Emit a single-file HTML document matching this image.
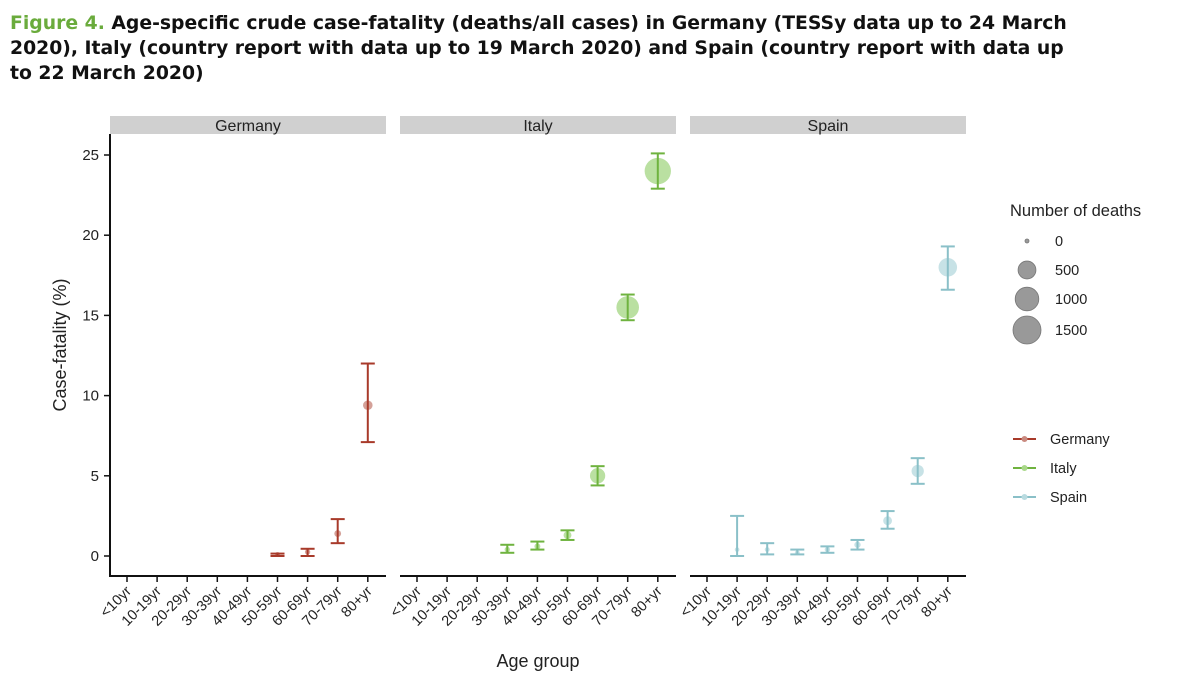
<!DOCTYPE html>
<html><head><meta charset="utf-8"><style>
body{margin:0;background:#fff;width:1200px;height:681px;overflow:hidden;font-family:"Liberation Sans",sans-serif}
.title{position:absolute;left:10px;top:11px;width:1072px;font-family:"DejaVu Sans",sans-serif;font-weight:bold;font-size:18.8px;line-height:25px;color:#111}
.title span{color:#6aab3c}
</style></head><body>
<div class="title"><span>Figure 4.</span> Age-specific crude case-fatality (deaths/all cases) in Germany (TESSy data up to 24 March 2020), Italy (country report with data up to 19 March 2020) and Spain (country report with data up to 22 March 2020)</div>
<svg id="c" width="1200" height="681" style="position:absolute;left:0;top:0"></svg>
<script>
const ages=["<10yr","10-19yr","20-29yr","30-39yr","40-49yr","50-59yr","60-69yr","70-79yr","80+yr"];
const countries=["Germany","Italy","Spain"];
const colors=["#a83a2a","#6fb33f","#8ac0c8"];
const fills=["#c98a80","#a9d88a","#b9dbe0"];
const germanyCF=[null,null,null,null,null,0.1,0.25,1.4,9.4];
const germanyLo=[null,null,null,null,null,0.0,0.0,0.8,7.1];
const germanyHi=[null,null,null,null,null,0.15,0.45,2.3,12.0];
const germanyDeaths=[0,0,0,0,0,2,5,20,80];
const italyCF=[null,null,null,0.4,0.6,1.3,5.0,15.5,24.0];
const italyLo=[null,null,null,0.2,0.4,1.0,4.4,14.7,22.9];
const italyHi=[null,null,null,0.7,0.9,1.6,5.6,16.3,25.1];
const italyDeaths=[0,0,0,5,10,40,330,900,1300];
const spainCF=[null,0.4,0.4,0.2,0.4,0.7,2.2,5.3,18.0];
const spainLo=[null,0.0,0.1,0.1,0.2,0.4,1.7,4.5,16.6];
const spainHi=[null,2.5,0.8,0.4,0.6,1.0,2.8,6.1,19.3];
const spainDeaths=[0,1,2,2,5,15,60,180,550];
const yTicks=[0,5,10,15,20,25];
const legendSizes=[0,500,1000,1500];
const series=[[germanyCF,germanyLo,germanyHi,germanyDeaths],[italyCF,italyLo,italyHi,italyDeaths],[spainCF,spainLo,spainHi,spainDeaths]];
const panelX=[110,400,690],panelW=276;
const y=v=>556-v*16.04;
const x=(p,i)=>panelX[p]+17+i*30.1;
const r=n=>2+Math.sqrt(n)*0.31;
const svg=document.getElementById('c');const NS="http://www.w3.org/2000/svg";
function mk(t,a,txt){const e=document.createElementNS(NS,t);for(const k in a)e.setAttribute(k,a[k]);if(txt!=null)e.textContent=txt;svg.appendChild(e);return e;}
for(let p=0;p<3;p++){
  let s=mk('rect',{x:panelX[p],y:116,width:panelW,height:18,fill:'#d0d0d0'});
  
  
  let st=mk('text',{x:panelX[p]+panelW/2,y:131,'text-anchor':'middle','font-size':16,fill:'#222'},countries[p]);
  
  
  let ax=mk('line',{x1:panelX[p],x2:panelX[p]+panelW,y1:576,y2:576,stroke:'#111','stroke-width':2});
  
  
  ages.forEach((a,i)=>{
    mk('line',{x1:x(p,i),x2:x(p,i),y1:576,y2:582,stroke:'#111','stroke-width':1.5});
    let t=mk('text',{x:x(p,i)+5,y:592,'text-anchor':'end','font-size':14.5,fill:'#222',transform:`rotate(-45 ${x(p,i)+5} 592)`},a);
    
    
  });
  const [cf,lo,hi,d]=series[p];
  cf.forEach((v,i)=>{
    if(v==null)return;
    const cx=x(p,i),c=colors[p];
    let g=mk('g',{});
    
    
    const add=(t,a)=>{const e=document.createElementNS(NS,t);for(const k in a)e.setAttribute(k,a[k]);g.appendChild(e);};
    add('circle',{cx:cx,cy:y(v),r:r(d[i]),fill:fills[p],'fill-opacity':0.8});
    add('line',{x1:cx,x2:cx,y1:y(lo[i]),y2:y(hi[i]),stroke:c,'stroke-width':2});
    add('line',{x1:cx-7,x2:cx+7,y1:y(lo[i]),y2:y(lo[i]),stroke:c,'stroke-width':2});
    add('line',{x1:cx-7,x2:cx+7,y1:y(hi[i]),y2:y(hi[i]),stroke:c,'stroke-width':2});
  });
}
let ya=mk('line',{x1:110,x2:110,y1:134,y2:577,stroke:'#111','stroke-width':2});


yTicks.forEach(v=>{
  mk('line',{x1:104,x2:110,y1:y(v),y2:y(v),stroke:'#111','stroke-width':1.5});
  let t=mk('text',{x:99,y:y(v)+5,'text-anchor':'end','font-size':15,fill:'#222'},v);
  
  
});
let yt=mk('text',{x:66,y:345,'text-anchor':'middle','font-size':18,fill:'#222',transform:'rotate(-90 66 345)'},'Case-fatality (%)');


let xt=mk('text',{x:538,y:667,'text-anchor':'middle','font-size':18,fill:'#222'},'Age group');


let lt=mk('text',{x:1010,y:216,'font-size':16.5,fill:'#222'},'Number of deaths');


const ly=[241,270,299,330];
legendSizes.forEach((n,i)=>{
  let c=mk('circle',{cx:1027,cy:ly[i],r:r(n),fill:'#999',stroke:'#777','stroke-width':0.8});
  
  
  let t=mk('text',{x:1055,y:ly[i]+5,'font-size':14.5,fill:'#222'},n);
  
  
});
const cly=[439,468,497];
countries.forEach((cn,i)=>{
  let g=mk('g',{});
  
  
  const add=(t,a,txt)=>{const e=document.createElementNS(NS,t);for(const k in a)e.setAttribute(k,a[k]);if(txt)e.textContent=txt;g.appendChild(e);};
  add('line',{x1:1013,x2:1036,y1:cly[i],y2:cly[i],stroke:colors[i],'stroke-width':2});
  add('circle',{cx:1024.5,cy:cly[i],r:3,fill:fills[i]});
  add('text',{x:1050,y:cly[i]+5,'font-size':14.5,fill:'#222'},cn);
});
</script>
</body></html>
